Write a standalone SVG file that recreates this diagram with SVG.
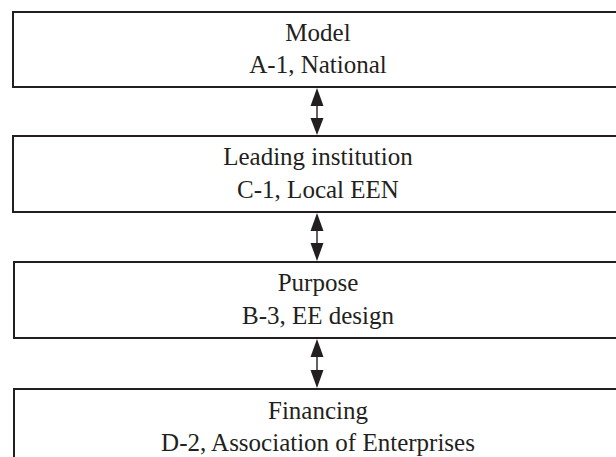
<svg xmlns="http://www.w3.org/2000/svg" width="616" height="457" viewBox="0 0 616 457">
<style>
.box{fill:#ffffff;stroke:#231f20;stroke-width:2}
.t{font-family:"Liberation Serif","Times New Roman",serif;font-size:25px;fill:#231f20;text-anchor:middle}
.shaft{stroke:#231f20;stroke-width:1.4;fill:none}
.head{fill:#231f20}
</style>
<rect x="0" y="0" width="616" height="457" fill="#ffffff"/>
<g id="node-model">
<rect class="box" x="13" y="12" width="620" height="75"/>
<text class="t" x="318" y="41">Model</text>
<text class="t" x="318" y="73">A-1, National</text>
</g>
<g id="node-leading">
<rect class="box" x="13" y="136" width="620" height="76"/>
<text class="t" x="318" y="165">Leading institution</text>
<text class="t" x="318" y="198">C-1, Local EEN</text>
</g>
<g id="node-purpose">
<rect class="box" x="14" y="262" width="620" height="76"/>
<text class="t" x="318" y="291">Purpose</text>
<text class="t" x="318" y="324">B-3, EE design</text>
</g>
<g id="node-financing">
<rect class="box" x="14" y="389" width="620" height="100"/>
<text class="t" x="318" y="419">Financing</text>
<text class="t" x="318" y="451">D-2, Association of Enterprises</text>
</g>
<g id="connectors">
<line class="shaft" x1="317" y1="100" x2="317" y2="124"/>
<polygon class="head" points="317,88 323.5,106 310.5,106"/>
<polygon class="head" points="310.5,118 323.5,118 317,135"/>
<line class="shaft" x1="317" y1="225" x2="317" y2="249"/>
<polygon class="head" points="317,213 323.5,231 310.5,231"/>
<polygon class="head" points="310.5,243 323.5,243 317,261"/>
<line class="shaft" x1="317" y1="351" x2="317" y2="376"/>
<polygon class="head" points="317,339 323.5,357 310.5,357"/>
<polygon class="head" points="310.5,370 323.5,370 317,388"/>
</g>
</svg>
